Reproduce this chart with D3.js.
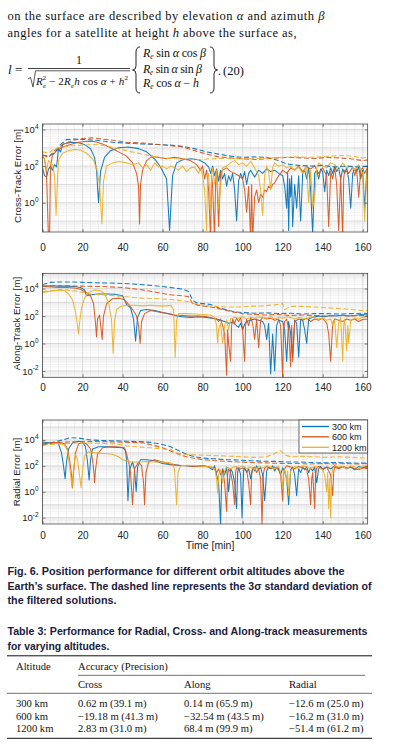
<!DOCTYPE html>
<html>
<head>
<meta charset="utf-8">
<script src="https://cdn.jsdelivr.net/npm/d3@7"></script>
<style>
body { margin: 0; background: #fff; }
svg { display: block; }
</style>
</head>
<body>
<svg id="page" width="394" height="754"></svg>
<script>
// ---- data ----
const timeTicks = [0, 20, 40, 60, 80, 100, 120, 140, 160];
const altitudes = ['300 km', '600 km', '1200 km'];
const colors = ['#0072BD', '#D95319', '#EDB120'];

// cross-track error [m], solid = error, sig = 3 sigma (dashed)
const crossErr300 = [[0,80],[1,30],[2,25],[3,70],[4,100],[5,60],[6,120],[7,90],[8,900],[9,600],[10,1500],[12,1800],[15,2000],[18,1900],[21,1500],[24,900],[26,300],[27,60],[28,1],[29,50],[31,300],[34,700],[38,1000],[43,1100],[48,900],[52,600],[56,250],[59,90],[62,20],[63.5,0.03],[65,30],[67,150],[70,220],[74,250],[78,220],[81,150],[83,90],[84,40],[85,100],[86,30],[87,70],[88,15],[89,60],[90,20],[91,40],[92,8],[93,30],[94,15],[95,40],[96,5],[97,0.1],[98,15],[99,40],[100,20],[101,50],[102,10],[103,40],[104,60],[106,25],[108,60],[110,40],[112,70],[114,50],[116,60],[118,40],[120,30],[121,8],[122,0.5],[122.5,40],[123,0.03],[123.5,20],[124,2],[124.5,30],[125,0.05],[126,10],[127,0.5],[128,30],[129,0.1],[130,40],[131,60],[132,20],[133,80],[134,5],[135,0.02],[136,40],[137,60],[138,20],[139,70],[140,50],[141,4],[142,60],[143,30],[144,80],[145,40],[146,100],[147,50],[148,80],[149,20],[150,70],[151,40],[152,80],[153,20],[154,0.5],[155,40],[156,70],[157,50],[158,90],[159,20],[160,60],[161,0.5],[162,50],[162.5,70]];
const crossSig300 = [[0,400],[3,350],[6,500],[9,1500],[12,2800],[16,3000],[22,2800],[28,2500],[35,2000],[42,1800],[50,1600],[58,1500],[64,1400],[70,1200],[76,900],[82,600],[88,450],[94,350],[100,300],[106,320],[112,300],[118,200],[122,130],[128,110],[134,100],[140,110],[146,90],[152,100],[158,90],[162.5,100]];
const crossErr600 = [[0,350],[1,250],[2,40],[3,0.01],[3.5,0.01],[4,100],[5,400],[7,700],[10,1100],[14,1500],[18,2000],[22,2300],[26,2200],[30,1600],[34,1000],[38,600],[42,350],[45,150],[47,40],[48,8],[48.5,0.07],[49,10],[50,60],[52,200],[55,350],[58,300],[62,250],[66,300],[70,250],[74,200],[77,120],[79,60],[80,100],[81,20],[82,60],[83,5],[84,0.01],[84.5,30],[85,8],[86,0.01],[86.5,20],[87,50],[88,0.05],[89,40],[90,60],[92,80],[94,50],[96,40],[98,30],[100,20],[101,5],[102,0.3],[103,8],[104,0.01],[104.5,10],[105,0.01],[106,2],[107,5],[108,1],[109,3],[110,2],[111,5],[112,4],[113,8],[114,6],[115,10],[116,12],[117,20],[118,30],[119,40],[120,60],[122,40],[124,80],[126,60],[128,100],[130,50],[132,90],[134,70],[136,100],[138,40],[140,80],[142,30],[143,0.05],[144,50],[145,20],[146,80],[147,10],[148,0.03],[149,30],[150,0.01],[150.5,20],[151,60],[153,40],[155,90],[156,30],[157,70],[158,2],[159,60],[160,80],[161,40],[162.5,90]];
const crossSig600 = [[0,400],[3,300],[6,700],[10,1500],[15,2500],[20,3200],[25,3500],[30,3000],[36,2500],[42,2000],[50,1800],[58,1500],[64,1300],[70,1100],[76,700],[82,450],[88,320],[94,280],[100,250],[106,230],[112,250],[118,280],[124,300],[130,280],[136,260],[142,300],[148,280],[154,250],[160,200],[162.5,220]];
const crossErr1200 = [[0,300],[1,250],[2,60],[3,200],[4,150],[5,120],[6,30],[6.8,0.2],[7.5,20],[8,200],[10,500],[13,700],[16,800],[19,750],[22,500],[25,250],[27,80],[28.5,10],[29.7,0.07],[30.5,15],[32,100],[35,150],[38,180],[42,150],[45,120],[48,150],[50,80],[52,120],[54,60],[56,150],[58,90],[60,100],[62,70],[64,100],[66,80],[68,60],[70,100],[72,50],[74,80],[76,90],[78,40],[79,80],[80,30],[81,5],[82,0.03],[82.5,20],[83,40],[84,0.4],[84.5,30],[85,80],[86,10],[87,60],[88,0.5],[89,10],[90,80],[92,100],[94,150],[96,200],[98,120],[100,150],[102,100],[104,180],[106,80],[108,30],[109,5],[110,0.2],[111,30],[112,100],[113,50],[114,5],[115,80],[116,150],[118,100],[120,120],[122,80],[124,100],[126,60],[128,90],[130,40],[132,100],[133,1],[134,60],[135,0.5],[136,2],[137,80],[138,150],[140,100],[142,80],[144,150],[146,120],[148,60],[150,150],[152,80],[154,100],[156,60],[158,120],[160,40],[161,0.1],[162,30],[162.5,100]];
const crossSig1200 = [[0,600],[3,500],[6,900],[10,1100],[15,1300],[20,1400],[25,1500],[30,1400],[36,1000],[42,700],[48,500],[54,350],[60,280],[66,250],[72,240],[78,230],[84,250],[90,260],[96,250],[102,250],[108,260],[114,280],[120,300],[126,320],[132,300],[138,320],[144,350],[150,380],[155,350],[160,280],[162.5,300]];

// along-track error [m]
const alongErr300 = [[0,14000],[4,16000],[8,15000],[12,15000],[16,14000],[19,12000],[21,8000],[22,3000],[24,3500],[28,4000],[32,4000],[36,3800],[40,3000],[41,1500],[42,700],[44,400],[45.5,60],[46.5,1.5],[47.5,80],[49,250],[52,300],[56,250],[60,180],[64,140],[67,100],[70,90],[74,80],[78,90],[82,80],[85,70],[87,60],[89,50],[91,40],[93,30],[95,35],[97,20],[98,15],[99,30],[100,10],[101,25],[102,40],[104,50],[106,60],[108,50],[110,40],[111,20],[112,2],[113,30],[114,0.006],[115,5],[116,0.01],[117,20],[118,50],[120,40],[121,10],[122,0.05],[123,40],[124,5],[125,0.1],[126,50],[127,30],[128,0.1],[129,60],[130,50],[131,10],[132,1],[133,60],[135,80],[138,100],[141,90],[144,110],[147,100],[150,120],[153,100],[156,110],[159,130],[162.5,120]];
const alongSig300 = [[0,20000],[4,28000],[8,30000],[14,30000],[20,28000],[28,26000],[36,25000],[44,22000],[52,18000],[60,14000],[66,11000],[70,9000],[73,6000],[75,1500],[77,900],[80,800],[84,700],[88,400],[92,280],[96,200],[100,180],[106,160],[112,170],[118,150],[124,160],[130,140],[136,150],[142,150],[148,140],[154,150],[160,160],[162.5,150]];
const alongErr600 = [[0,15000],[4,13000],[8,12000],[12,12000],[16,11000],[19,9000],[22,5000],[24,3000],[25.5,800],[26.5,30],[27,3],[27.5,60],[28.5,120],[29.3,10],[29.8,2],[30.5,100],[32,800],[35,1800],[38,2000],[41,1500],[43,700],[45,300],[47,100],[48,20],[48.8,1],[49.5,40],[51,150],[54,250],[58,200],[62,150],[66,120],[70,110],[74,100],[78,100],[82,90],[85,70],[87,60],[88,40],[89,60],[90,20],[91,5],[92,0.005],[92.5,10],[93,1],[94,0.05],[94.5,20],[95,60],[96,30],[97,70],[98,40],[99,80],[100,10],[101,0.05],[101.5,20],[102,60],[103,20],[104,80],[105,30],[106,2],[107,60],[108,0.5],[109,50],[110,80],[112,60],[114,70],[116,50],[118,60],[119,20],[120,0.003],[120.5,10],[121,40],[122,60],[123,10],[124,0.02],[124.5,20],[125,0.05],[126,40],[128,60],[130,50],[132,70],[134,40],[136,60],[138,50],[140,70],[142,30],[143,5],[144,0.05],[145,30],[146,60],[148,50],[150,40],[152,60],[154,50],[156,60],[158,40],[160,55],[162.5,60]];
const alongSig600 = [[0,15000],[5,16000],[10,16000],[20,15000],[30,14000],[40,12000],[50,8000],[58,5000],[64,3500],[70,3000],[73,2500],[75,800],[78,600],[82,500],[86,400],[90,300],[95,200],[100,150],[106,130],[112,120],[118,130],[124,110],[130,120],[136,110],[142,100],[148,110],[154,100],[160,110],[162.5,100]];
const alongErr1200 = [[0,5000],[3,6000],[6,7000],[9,8000],[11,7000],[13,4000],[15,1500],[16.5,200],[17.5,20],[18,5],[18.5,30],[19.5,400],[21,2000],[23,5000],[26,8000],[29,7000],[31,4000],[33,1000],[34.5,50],[35.3,0.2],[36,40],[37,300],[39,500],[42,600],[46,600],[50,550],[54,600],[58,550],[62,550],[64,600],[65.5,300],[66.3,0.1],[67,50],[68,150],[72,150],[76,140],[80,130],[84,120],[86,80],[87,20],[87.5,1],[88,10],[89,30],[90,1],[91,20],[92,50],[93,10],[94,60],[96,80],[98,70],[100,90],[102,60],[104,80],[106,70],[108,90],[110,80],[112,70],[114,90],[116,60],[118,80],[120,70],[122,90],[124,80],[126,60],[128,80],[130,70],[132,60],[134,90],[136,80],[138,60],[140,70],[142,50],[144,60],[145,20],[146,50],[147,0.5],[148,30],[149,80],[150,0.05],[150.5,20],[151,60],[152,0.3],[152.5,20],[153,1],[154,50],[156,70],[158,60],[160,80],[162.5,90]];
const alongSig1200 = [[0,6000],[4,7000],[8,8000],[12,8000],[18,6000],[24,4000],[30,3500],[36,3000],[42,2500],[50,2000],[58,1800],[66,1500],[72,1200],[76,800],[80,600],[86,500],[92,450],[98,450],[104,500],[110,550],[116,650],[120,800],[121,300],[124,500],[130,500],[136,450],[142,400],[148,350],[154,300],[160,250],[162.5,250]];

// radial error [m]
const radialErr300 = [[0,7000],[3,6000],[6,6500],[8,5000],[9.5,1000],[10.5,100],[11.3,10],[12,200],[13,2000],[15,6000],[18,8000],[20,7000],[21.5,3000],[22.5,200],[23.3,8],[24,300],[25,2000],[28,3000],[32,3000],[36,2800],[40,2500],[41.5,1500],[42,300],[42.7,0.2],[43.5,50],[45,200],[46,50],[46.8,1],[47.5,80],[49,300],[52,300],[56,250],[60,150],[64,120],[68,110],[72,100],[76,90],[80,100],[83,80],[85,50],[86,100],[87,20],[88,5],[89,0.003],[89.5,10],[90,60],[91,20],[92,80],[93,1],[94,60],[95,30],[96,5],[97,0.05],[97.5,30],[98,80],[99,20],[99.7,0.01],[100.5,40],[101,80],[102,30],[103,60],[104,10],[105,70],[106,40],[107,100],[108,50],[109,80],[110,20],[111,0.2],[112,40],[113,80],[114,60],[115,100],[116,40],[117,80],[118,60],[119,20],[120,70],[121,40],[122,10],[123,0.1],[124,50],[125,80],[126,20],[127,0.5],[128,60],[129,30],[130,80],[131,50],[132,90],[133,30],[134,70],[135,40],[136,80],[137,5],[138,60],[139,90],[140,50],[142,80],[144,60],[146,100],[148,70],[150,90],[152,60],[154,80],[156,50],[158,90],[160,70],[162.5,80]];
const radialSig300 = [[0,4000],[3,5000],[6,7000],[10,10000],[14,15000],[18,14000],[24,10000],[30,9000],[36,8500],[42,8000],[48,7500],[54,6500],[60,4500],[64,3000],[68,1500],[72,800],[76,500],[80,400],[86,350],[92,300],[98,280],[104,250],[110,230],[116,220],[122,200],[128,200],[134,180],[140,170],[146,180],[152,170],[158,160],[162.5,170]];
const radialErr600 = [[0,5000],[3,5500],[6,6000],[9,6000],[11,5000],[12.5,2000],[13.5,300],[14.5,20],[15,2],[15.5,30],[16.5,1000],[18,5000],[20,6000],[22,5000],[24,2000],[25,300],[25.7,30],[26,5],[26.5,50],[27.5,800],[30,2500],[34,3000],[38,2800],[41,2500],[42,800],[43,200],[44,30],[45,0.1],[46,60],[48,200],[49.5,100],[50.5,5],[51,0.1],[51.7,30],[53,200],[56,300],[60,200],[64,130],[68,110],[72,100],[76,90],[80,100],[84,80],[86,60],[87,30],[88,60],[89,20],[90,50],[91,5],[92,0.03],[92.5,20],[93,60],[94,30],[95,5],[96,0.1],[96.5,30],[97,80],[98,50],[100,70],[102,40],[103,5],[104,0.1],[104.5,20],[105,60],[106,80],[107,30],[108,60],[109,10],[109.7,0.003],[110.3,20],[111,70],[112,90],[114,60],[116,80],[118,50],[119,20],[120,0.2],[120.5,20],[121,60],[122,100],[124,80],[126,60],[128,90],[130,70],[132,50],[133,10],[134,0.1],[134.5,10],[135,30],[136,0.05],[136.5,20],[137,70],[138,90],[140,60],[142,80],[144,20],[145,0.5],[145.5,30],[146,80],[148,60],[150,90],[152,70],[154,80],[156,60],[158,50],[160,70],[162.5,60]];
const radialSig600 = [[0,5000],[4,6000],[8,6500],[14,7000],[20,7500],[28,7500],[36,7000],[44,6500],[50,6000],[55,4000],[60,2500],[65,1200],[70,600],[75,400],[80,300],[86,250],[92,220],[98,200],[104,180],[110,170],[116,160],[122,150],[128,150],[134,140],[140,150],[146,140],[152,150],[158,140],[162.5,150]];
const radialErr1200 = [[0,4000],[3,5000],[6,5500],[9,5000],[11,4000],[12.5,1500],[13.5,100],[14.8,2],[15.5,50],[16.5,800],[17.5,300],[18.5,20],[19.3,2],[20,40],[21,600],[23,1200],[27,1000],[31,900],[35,800],[38,500],[40,300],[44,200],[48,200],[52,220],[56,200],[60,200],[63,180],[65,150],[66,50],[67,0.1],[67.7,30],[69,100],[73,110],[77,100],[81,90],[84,80],[86,60],[87,10],[87.5,0.8],[88,20],[89,50],[90,5],[91,40],[92,80],[94,60],[96,90],[98,70],[100,100],[102,60],[104,80],[106,50],[108,90],[110,70],[112,100],[114,80],[116,60],[118,90],[119,30],[120,2],[120.5,30],[121,60],[122,5],[122.5,40],[123,0.5],[124,40],[126,90],[128,70],[130,100],[132,80],[134,60],[136,90],[138,70],[140,50],[141,20],[142,1],[142.5,30],[143,0.05],[143.5,10],[144,0.01],[144.5,20],[145,60],[146,100],[148,80],[150,90],[152,60],[154,100],[156,80],[158,60],[160,90],[162.5,100]];
const radialSig1200 = [[0,4000],[4,4500],[8,5000],[14,5500],[20,6000],[28,5500],[36,5000],[42,3500],[48,2800],[54,2500],[60,2000],[64,1800],[67,1000],[70,800],[76,700],[82,650],[88,600],[94,550],[100,500],[106,450],[112,500],[116,900],[119,1500],[121,700],[124,500],[130,550],[136,500],[142,450],[148,500],[154,450],[160,400],[162.5,420]];

// table 3
const tableHead = ['Cross', 'Along', 'Radial'];
const tableRows = [
    ['300 km', '0.62 m (39.1 m)', '0.14 m (65.9 m)', '\u221212.6 m (25.0 m)'],
    ['600 km', '\u221219.18 m (41.3 m)', '\u221232.54 m (43.5 m)', '\u221216.2 m (31.0 m)'],
    ['1200 km', '2.83 m (31.0 m)', '68.4 m (99.9 m)', '\u221251.4 m (61.2 m)']
];

// ---- page ----
const svg = d3.select('#page');
svg.append('rect').attr('width', 394).attr('height', 754).attr('fill', '#fff');

const serif = '"Liberation Serif", "Times New Roman", serif';
const sans = '"Liberation Sans", Arial, sans-serif';

// helper: text built from pieces (italic, size, shifts)
function rich(x, y, size, parts, opts) {
    const t = svg.append('text').attr('x', x).attr('y', y)
        .attr('font-family', serif).attr('font-size', size).attr('fill', '#111');
    if (opts && opts.len) t.attr('textLength', opts.len);
    parts.forEach(p => {
        const s = t.append('tspan').text(p.t);
        if (p.i) s.attr('font-style', 'italic');
        if (p.fs) s.attr('font-size', p.fs);
        if (p.dx) s.attr('dx', p.dx);
        if (p.dy) s.attr('dy', p.dy);
    });
    return t;
}

// top paragraph
rich(7.5, 20, 12.5, [{t: 'on the surface are described by elevation '}, {t: '\u03b1', i: 1}, {t: ' and azimuth '}, {t: '\u03b2', i: 1}], {len: 317});
rich(7.5, 37, 12.5, [{t: 'angles for a satellite at height '}, {t: 'h', i: 1}, {t: ' above the surface as,'}], {len: 289});

// equation (20)
rich(8, 74, 13, [{t: 'l', i: 1}, {t: ' ='}]);
rich(76, 64, 12, [{t: '1'}]);
svg.append('line').attr('x1', 28).attr('x2', 130).attr('y1', 68.5).attr('y2', 68.5)
    .attr('stroke', '#111').attr('stroke-width', 0.8);
svg.append('path').attr('d', 'M28,79 L30.5,77.5 L33,87 L35.5,70.8 L130,70.8')
    .attr('fill', 'none').attr('stroke', '#111').attr('stroke-width', 0.7);
rich(36, 85, 11, [{t: 'R', i: 1}, {t: 'e', i: 1, fs: 7, dy: 2.5}, {t: '2', fs: 7, dx: -3.6, dy: -8},
    {t: ' \u2212 2', dy: 5.5}, {t: 'R', i: 1}, {t: 'e', i: 1, fs: 7, dy: 2.5}, {t: 'h', i: 1, dy: -2.5},
    {t: ' cos '}, {t: '\u03b1', i: 1}, {t: ' + '}, {t: 'h', i: 1}, {t: '2', fs: 7, dy: -5}], {len: 92});
const matRows = [
    [{t: 'R', i: 1}, {t: 'e', i: 1, fs: 7.5, dy: 2}, {t: ' sin ', dy: -2}, {t: '\u03b1', i: 1}, {t: ' cos '}, {t: '\u03b2', i: 1}],
    [{t: 'R', i: 1}, {t: 'e', i: 1, fs: 7.5, dy: 2}, {t: ' sin ', dy: -2}, {t: '\u03b1', i: 1}, {t: ' sin '}, {t: '\u03b2', i: 1}],
    [{t: 'R', i: 1}, {t: 'e', i: 1, fs: 7.5, dy: 2}, {t: ' cos ', dy: -2}, {t: '\u03b1', i: 1}, {t: ' \u2212 '}, {t: 'h', i: 1}]
];
[57, 72.5, 87].forEach((yy, k) => rich(143, yy, 12, matRows[k], {len: [63, 59, 56][k]}));
svg.append('path').attr('d', 'M140,47 Q136,47 136,52 L136,66 Q136,70 132.5,70 Q136,70 136,74 L136,88 Q136,93 140,93')
    .attr('fill', 'none').attr('stroke', '#111').attr('stroke-width', 0.9);
svg.append('path').attr('d', 'M210,47 Q214,47 214,52 L214,66 Q214,70 217.5,70 Q214,70 214,74 L214,88 Q214,93 210,93')
    .attr('fill', 'none').attr('stroke', '#111').attr('stroke-width', 0.9);
rich(218, 75, 12, [{t: '.'}]);
rich(223, 75, 12.5, [{t: '(20)'}]);

// ---- plots ----
const plotLeft = 42.5, plotRight = 367.7, tMax = 162.5;
const x = d3.scaleLinear().domain([0, tMax]).range([plotLeft, plotRight]);

const panels = [
    {id: 'cross', top: 124, bottom: 232, yDomain: [Math.pow(10, -1.6), Math.pow(10, 4.3)], yTicks: [1, 100, 1e4],
        title: 'Cross-Track Error [m]', titleY: 176, titleX: 17.5, tickPad: 11.4,
        err: [crossErr300, crossErr600, crossErr1200], sig: [crossSig300, crossSig600, crossSig1200]},
    {id: 'along', top: 273.3, bottom: 377.3, yDomain: [Math.pow(10, -2.46), Math.pow(10, 5.11)], yTicks: [0.01, 1, 100, 1e4],
        title: 'Along-Track Error [m]', titleY: 323.5, titleX: 16, tickPad: 7.1,
        err: [alongErr300, alongErr600, alongErr1200], sig: [alongSig300, alongSig600, alongSig1200]},
    {id: 'radial', top: 420, bottom: 524, yDomain: [Math.pow(10, -2.49), Math.pow(10, 5.54)], yTicks: [0.01, 1, 100, 1e4],
        title: 'Radial Error [m]', titleY: 472, titleX: 16, tickPad: 7.4,
        err: [radialErr300, radialErr600, radialErr1200], sig: [radialSig300, radialSig600, radialSig1200]}
];

function drawPanel(p) {
    const y = d3.scaleLog().domain(p.yDomain).range([p.bottom, p.top]);
    const g = svg.append('g');
    const clipId = 'clip-' + p.id;
    svg.append('clipPath').attr('id', clipId).append('rect')
        .attr('x', plotLeft).attr('y', p.top)
        .attr('width', plotRight - plotLeft).attr('height', p.bottom - p.top);

    // grid
    const grid = g.append('g');
    const xMinor = d3.range(0, tMax, 4).filter(t => t % 20 !== 0);
    const lo = Math.floor(Math.log10(p.yDomain[0])), hi = Math.ceil(Math.log10(p.yDomain[1]));
    const yMajor = [], yMinor = [];
    for (let k = lo; k <= hi; k++) {
        const v = Math.pow(10, k);
        if (v >= p.yDomain[0] && v <= p.yDomain[1]) yMajor.push(v);
        for (let m = 2; m <= 9; m++) {
            const w = m * v;
            if (w >= p.yDomain[0] && w <= p.yDomain[1]) yMinor.push(w);
        }
    }
    grid.selectAll('.xmin').data(xMinor).enter().append('line')
        .attr('x1', d => x(d)).attr('x2', d => x(d)).attr('y1', p.top).attr('y2', p.bottom)
        .attr('stroke', '#cfcfcf').attr('stroke-width', 0.5).attr('stroke-dasharray', '1,1');
    grid.selectAll('.ymin').data(yMinor).enter().append('line')
        .attr('x1', plotLeft).attr('x2', plotRight).attr('y1', d => y(d)).attr('y2', d => y(d))
        .attr('stroke', '#cfcfcf').attr('stroke-width', 0.5).attr('stroke-dasharray', '1,1');
    grid.selectAll('.xmaj').data(timeTicks).enter().append('line')
        .attr('x1', d => x(d)).attr('x2', d => x(d)).attr('y1', p.top).attr('y2', p.bottom)
        .attr('stroke', '#c4c4c4').attr('stroke-width', 0.6);
    grid.selectAll('.ymaj').data(yMajor).enter().append('line')
        .attr('x1', plotLeft).attr('x2', plotRight).attr('y1', d => y(d)).attr('y2', d => y(d))
        .attr('stroke', '#c4c4c4').attr('stroke-width', 0.6);

    // series
    const line = d3.line().x(d => x(d[0])).y(d => y(d[1]));
    const lines = g.append('g').attr('clip-path', `url(#${clipId})`);
    p.err.forEach((s, i) => {
        lines.append('path').datum(s).attr('d', line)
            .attr('fill', 'none').attr('stroke', colors[i]).attr('stroke-width', 1.05)
            .attr('stroke-linejoin', 'round').attr('opacity', 0.92);
    });
    p.sig.forEach((s, i) => {
        lines.append('path').datum(s).attr('d', line)
            .attr('fill', 'none').attr('stroke', colors[i]).attr('stroke-width', 1.1)
            .attr('stroke-dasharray', '5,2.5').attr('opacity', 0.9);
    });

    // axes (ticks inward, box on)
    const xa = g.append('g').attr('transform', `translate(0,${p.bottom})`)
        .call(d3.axisBottom(x).tickValues(timeTicks).tickSize(-3).tickPadding(p.tickPad));
    const xt = g.append('g').attr('transform', `translate(0,${p.top})`)
        .call(d3.axisTop(x).tickValues(timeTicks).tickSize(-3).tickFormat(''));
    const ya = g.append('g').attr('transform', `translate(${plotLeft},0)`)
        .call(d3.axisLeft(y).tickValues(p.yTicks).tickSize(-3).tickPadding(4).tickFormat(() => '10'));
    const yr = g.append('g').attr('transform', `translate(${plotRight},0)`)
        .call(d3.axisRight(y).tickValues(p.yTicks).tickSize(-3).tickFormat(''));
    [xa, xt, ya, yr].forEach(a => {
        a.select('.domain').remove();
        a.selectAll('.tick line').attr('stroke', '#333').attr('stroke-width', 0.6);
        a.selectAll('text').attr('font-family', sans).attr('font-size', 10).attr('fill', '#222');
    });
    ya.selectAll('.tick text').attr('font-size', 9.5).append('tspan').attr('dy', -4.5).attr('font-size', 6.5)
        .text(d => String(Math.round(Math.log10(d))));
    g.append('rect').attr('x', plotLeft).attr('y', p.top)
        .attr('width', plotRight - plotLeft).attr('height', p.bottom - p.top)
        .attr('fill', 'none').attr('stroke', '#333').attr('stroke-width', 0.7);

    g.append('text').attr('transform', `translate(${p.titleX},${p.titleY}) rotate(-90)`)
        .attr('text-anchor', 'middle').attr('dominant-baseline', 'central')
        .attr('font-family', sans).attr('font-size', 9.8).attr('fill', '#222').text(p.title);
    return y;
}

panels.forEach(drawPanel);

svg.append('text').attr('x', 210).attr('y', 549).attr('text-anchor', 'middle')
    .attr('font-family', sans).attr('font-size', 10.5).attr('fill', '#222').text('Time [min]');

// legend (bottom panel)
const leg = svg.append('g');
leg.append('rect').attr('x', 299).attr('y', 420).attr('width', plotRight - 299).attr('height', 33)
    .attr('fill', '#fff').attr('stroke', '#333').attr('stroke-width', 0.7);
altitudes.forEach((a, i) => {
    const ly = [426.5, 436.8, 447.3][i];
    leg.append('line').attr('x1', 302).attr('x2', 329).attr('y1', ly).attr('y2', ly)
        .attr('stroke', colors[i]).attr('stroke-width', 1.3);
    leg.append('text').attr('x', 332).attr('y', ly + 3.2).attr('font-family', sans)
        .attr('font-size', 9).attr('fill', '#222').text(a);
});

// ---- caption ----
const capColor = '#1c2040';
function capLine(txt, y, len) {
    svg.append('text').attr('x', 7.5).attr('y', y).attr('font-family', sans)
        .attr('font-weight', 'bold').attr('font-size', 11).attr('fill', capColor)
        .attr('textLength', len).attr('lengthAdjust', 'spacingAndGlyphs').text(txt);
}
capLine('Fig. 6. Position performance for different orbit altitudes above the', 575, 337);
capLine('Earth\u2019s surface. The dashed line represents the 3\u03c3 standard deviation of', 589.5, 364);
capLine('the filtered solutions.', 604, 109);
capLine('Table 3: Performance for Radial, Cross- and Along-track measurements', 635, 360);
capLine('for varying altitudes.', 650, 102);

// ---- table ----
const rule = (x1, x2, yy, w) => svg.append('line').attr('x1', x1).attr('x2', x2).attr('y1', yy).attr('y2', yy)
    .attr('stroke', '#111').attr('stroke-width', w);
rule(7, 372, 655.8, 1);
rule(78, 365, 675.3, 0.6);
rule(7, 372, 693.3, 0.6);
rule(7, 372, 738.3, 1);

const colX = [16, 78, 184, 289];
const tcell = (tx, xx, yy) => svg.append('text').attr('x', xx).attr('y', yy)
    .attr('font-family', serif).attr('font-size', 10.6).attr('fill', '#111').text(tx);
tcell('Altitude', colX[0], 669.5);
tcell('Accuracy (Precision)', colX[1], 669.5);
tableHead.forEach((h, i) => tcell(h, colX[i + 1], 688));
tableRows.forEach((r, j) => {
    r.forEach((c, i) => tcell(c, colX[i], [707, 719.5, 732][j]));
});
</script>
</body>
</html>
